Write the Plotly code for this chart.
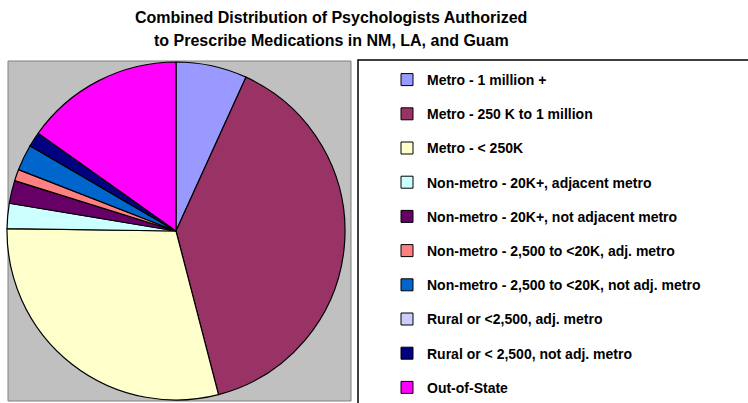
import plotly.graph_objects as go

categories = [
    "Metro - 1 million +",
    "Metro - 250 K to 1 million",
    "Metro - < 250K",
    "Non-metro - 20K+, adjacent metro",
    "Non-metro - 20K+, not adjacent metro",
    "Non-metro - 2,500 to <20K, adj. metro",
    "Non-metro - 2,500 to <20K, not adj. metro",
    "Rural or <2,500, adj. metro",
    "Rural or < 2,500, not adj. metro",
    "Out-of-State",
]
percent = [6.8, 39.2, 29.3, 2.4, 2.2, 1.1, 2.5, 0.0, 1.4, 15.2]
colors = ["#9999FF", "#993366", "#FFFFCC", "#CCFFFF", "#660066",
          "#FF8080", "#0066CC", "#CCCCFF", "#000080", "#FF00FF"]
title_lines = ["Combined Distribution of Psychologists Authorized",
               "to Prescribe Medications in NM, LA, and Guam"]

W, H = 748, 403
FONT = "Liberation Sans, Arial, sans-serif"
fig = go.Figure()

cx, cy, r = 176, 231, 169
fig.add_trace(go.Pie(
    labels=categories, values=percent, sort=False, direction="clockwise",
    rotation=0, textinfo="none", hoverinfo="label+percent",
    marker=dict(colors=colors, line=dict(color="#000000", width=1.2)),
    showlegend=False,
    domain=dict(x=[(cx - r) / W, (cx + r) / W],
                y=[(H - cy - r) / H, (H - cy + r) / H]),
))

for i, (c, col) in enumerate(zip(categories, colors)):
    fig.add_trace(go.Scatter(
        x=[None], y=[None], mode="markers", name="<b>%s</b>" % c, legendgroup=f"g{i}",
        marker=dict(symbol="square", size=12, color=col,
                    line=dict(color="#000000", width=1)),
        showlegend=True, hoverinfo="skip",
    ))

fig.update_layout(
    width=W, height=H,
    margin=dict(l=0, r=0, t=0, b=0, autoexpand=False),
    paper_bgcolor="#FFFFFF", plot_bgcolor="rgba(0,0,0,0)",
    xaxis=dict(visible=False), yaxis=dict(visible=False),
    font=dict(family=FONT, color="#000000"),
    legend=dict(
        x=387 / W, y=1 - 64 / H, xanchor="left", yanchor="top",
        bgcolor="rgba(0,0,0,0)", borderwidth=0,
        font=dict(size=14, family=FONT, color="#000000"),
        tracegroupgap=13, itemclick=False, itemdoubleclick=False,
    ),
    shapes=[
        dict(type="rect", xref="paper", yref="paper", layer="below",
             x0=8 / W, x1=351 / W, y0=1 - 401 / H, y1=1 - 61 / H,
             fillcolor="#C0C0C0", line=dict(color="#808080", width=1)),
        dict(type="rect", xref="paper", yref="paper", layer="below",
             x0=358 / W, x1=760 / W, y0=1 - 410 / H, y1=1 - 60 / H,
             fillcolor="#FFFFFF", line=dict(color="#000000", width=1.5)),
    ],
    annotations=[
        dict(text="<b>%s</b>" % title_lines[0], x=331 / W, y=1 - 18 / H,
             xref="paper", yref="paper", showarrow=False, yanchor="middle",
             font=dict(size=16, family=FONT, color="#000000")),
        dict(text="<b>%s</b>" % title_lines[1], x=331 / W, y=1 - 41 / H,
             xref="paper", yref="paper", showarrow=False, yanchor="middle",
             font=dict(size=16, family=FONT, color="#000000")),
    ],
)

fig.write_html("out.html", config={"displayModeBar": False},
               post_script="document.body.style.margin='0';")
